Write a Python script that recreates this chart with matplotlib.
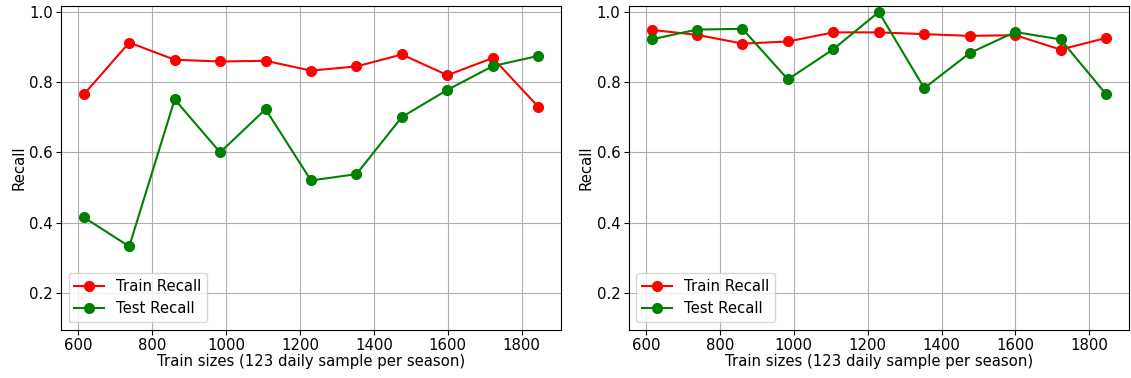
import matplotlib
matplotlib.use('Agg')
import matplotlib.pyplot as plt

# train sizes (multiples of 123)
train_sizes = [615, 738, 861, 984, 1107, 1230, 1353, 1476, 1599, 1722, 1845]

# left panel
train_recall_a = [0.765, 0.913, 0.864, 0.859, 0.861, 0.833, 0.845, 0.879, 0.820, 0.869, 0.730]
test_recall_a = [0.415, 0.332, 0.751, 0.600, 0.723, 0.520, 0.538, 0.701, 0.778, 0.846, 0.875]

# right panel
train_recall_b = [0.949, 0.935, 0.910, 0.916, 0.942, 0.942, 0.937, 0.932, 0.934, 0.893, 0.926]
test_recall_b = [0.922, 0.950, 0.952, 0.808, 0.894, 1.000, 0.783, 0.883, 0.943, 0.922, 0.766]

panels = [(train_recall_a, test_recall_a), (train_recall_b, test_recall_b)]
lefts = [0.054, 0.556]
fs = 10.7

fig = plt.figure(figsize=(11.31, 3.78), dpi=100)

for left, (train_vals, test_vals) in zip(lefts, panels):
    ax = fig.add_axes([left, 0.128, 0.442, 0.856])
    ax.plot(train_sizes, train_vals, 'o-', color='r', linewidth=1.5, markersize=7,
            label='Train Recall')
    ax.plot(train_sizes, test_vals, 'o-', color='g', linewidth=1.5, markersize=7,
            label='Test Recall')
    ax.set_ylim(0.095, 1.017)
    ax.set_yticks([0.2, 0.4, 0.6, 0.8, 1.0])
    ax.set_xticks([600, 800, 1000, 1200, 1400, 1600, 1800])
    ax.grid(True, color='#b0b0b0', linewidth=0.8)
    ax.set_xlabel('Train sizes (123 daily sample per season)', fontsize=fs, labelpad=1)
    ax.set_ylabel('Recall', fontsize=fs, labelpad=2)
    ax.tick_params(labelsize=fs, pad=2.5)
    ax.legend(loc='lower left', fontsize=fs)

fig.savefig('out.png', dpi=100)
